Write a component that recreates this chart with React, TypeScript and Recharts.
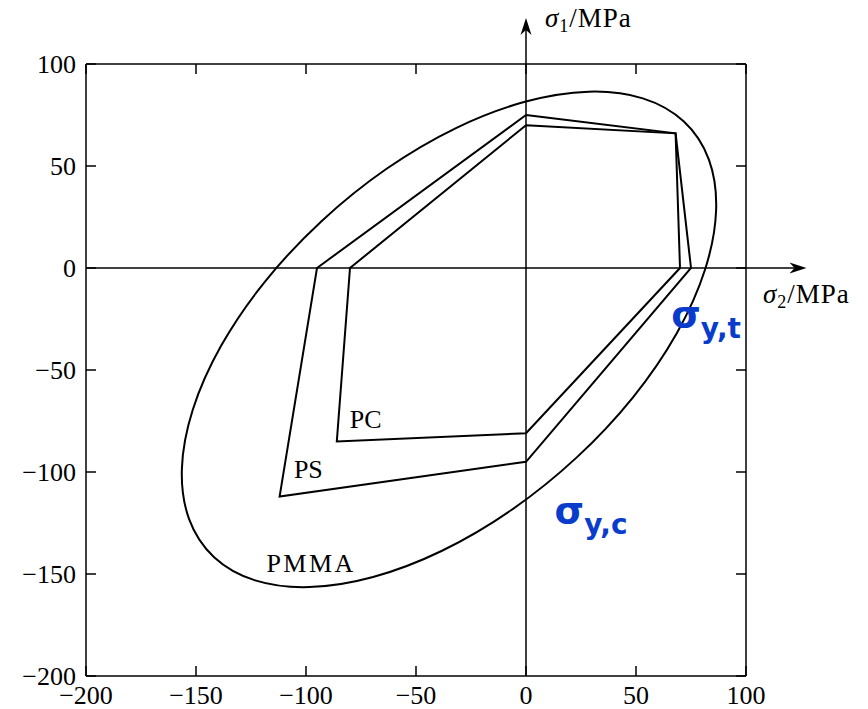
import React from 'react';
import { ScatterChart, Scatter, XAxis, YAxis, ReferenceLine, ReferenceDot } from 'recharts';

// yield loci, sigma2 (x) vs sigma1 (y), MPa
const PC = [
  { s2: 0, s1: 70 }, { s2: 68, s1: 66 }, { s2: 70, s1: 0 }, { s2: 0, s1: -81 },
  { s2: -86, s1: -85 }, { s2: -80, s1: 0 }, { s2: 0, s1: 70 },
];
const PS = [
  { s2: 0, s1: 75 }, { s2: 68, s1: 66 }, { s2: 75, s1: 0 }, { s2: 0, s1: -95 },
  { s2: -112, s1: -112 }, { s2: -95, s1: 0 }, { s2: 0, s1: 75 },
];
// control points of the PMMA ellipse (closed B-spline)
const PMMA = [
  { s2: 73.0, s1: 73.0 }, { s2: 54.1, s1: 84.5 }, { s2: 29.2, s1: 87.8 },
  { s2: -0.1, s1: 82.8 }, { s2: -31.8, s1: 69.8 }, { s2: -63.7, s1: 49.6 },
  { s2: -93.6, s1: 23.6 }, { s2: -119.6, s1: -6.3 }, { s2: -139.8, s1: -38.2 },
  { s2: -152.8, s1: -69.9 }, { s2: -157.8, s1: -99.2 }, { s2: -154.5, s1: -124.1 },
  { s2: -143.0, s1: -143.0 }, { s2: -124.1, s1: -154.5 }, { s2: -99.2, s1: -157.8 },
  { s2: -69.9, s1: -152.8 }, { s2: -38.2, s1: -139.8 }, { s2: -6.3, s1: -119.6 },
  { s2: 23.6, s1: -93.6 }, { s2: 49.6, s1: -63.7 }, { s2: 69.8, s1: -31.8 },
  { s2: 82.8, s1: -0.1 }, { s2: 87.8, s1: 29.2 }, { s2: 84.5, s1: 54.1 },
];
const TICKS = [-200, -150, -100, -50, 0, 50, 100];

const SERIF = '"Liberation Serif", "Times New Roman", serif';
const SANS = '"DejaVu Sans", Verdana, sans-serif';
const BLUE = '#0a3ccc';

const fmt = (v: number) => String(v).replace('-', '\u2212');
const blank = () => '';
const noDot = () => <g />;

// axis line through the origin with an arrow head at its far end
const AxisArrow = (p: any) => {
  const { x1, y1, x2, y2 } = p;
  const len = Math.hypot(x2 - x1, y2 - y1);
  const ux = (x2 - x1) / len, uy = (y2 - y1) / len;
  const px = -uy, py = ux;
  const L = 17, W = 5.5, N = 12;
  const pts = [
    [x2, y2],
    [x2 - ux * L + px * W, y2 - uy * L + py * W],
    [x2 - ux * N, y2 - uy * N],
    [x2 - ux * L - px * W, y2 - uy * L - py * W],
  ].map(q => q.join(',')).join(' ');
  return (
    <g>
      <line x1={x1} y1={y1} x2={x2 - ux * N} y2={y2 - uy * N} stroke="#000" strokeWidth={1.5} />
      <polygon points={pts} fill="#000" />
    </g>
  );
};

const at = (draw: (x: number, y: number) => React.ReactNode) => (p: any) => {
  const vb = p.viewBox || {};
  return draw((vb.x || 0) + (vb.width || 0) / 2, (vb.y || 0) + (vb.height || 0) / 2);
};

const plain = (t: string, spacing = 0) => at((x, y) => (
  <text x={x} y={y} fontFamily={SERIF} fontSize={26} letterSpacing={spacing} fill="#000">{t}</text>
));

const axisTitle = (sub: string) => at((x, y) => (
  <text x={x} y={y} fontFamily={SERIF} fontSize={27} letterSpacing={1} fill="#000">
    <tspan fontStyle="italic">σ</tspan>
    <tspan fontSize={18} dy={5}>{sub}</tspan>
    <tspan dy={-5}>/MPa</tspan>
  </text>
));

const yieldNote = (sub: string) => at((x, y) => (
  <text x={x} y={y} fontFamily={SANS} fontWeight="bold" fill={BLUE} fontSize={38}>
    σ<tspan fontSize={28} dy={11}>{sub}</tspan>
  </text>
));

const tickFont = { fontFamily: SERIF, fontSize: 26, fill: '#000' };
const frame = { stroke: '#000', strokeWidth: 1.5 };

export default function App() {
  return (
    <div style={{ position: 'absolute', left: 0, top: 0, background: '#fff' }}>
      <ScatterChart width={868} height={709} margin={{ top: 54, right: 112, bottom: 3, left: 16 }}>
        <XAxis xAxisId={0} type="number" dataKey="s2" domain={[-200, 100]} ticks={TICKS} interval={0}
          tickFormatter={fmt} tick={tickFont} tickSize={-10} tickMargin={20} height={30}
          axisLine={frame} tickLine={frame} />
        <XAxis xAxisId="top" orientation="top" type="number" dataKey="s2" domain={[-200, 100]} ticks={TICKS}
          interval={0} tickFormatter={blank} tickSize={-10} height={10} axisLine={frame} tickLine={frame} />
        <YAxis yAxisId={0} type="number" dataKey="s1" domain={[-200, 100]} ticks={TICKS} interval={0}
          tickFormatter={fmt} tick={tickFont} tickSize={-10} tickMargin={20} width={70}
          axisLine={frame} tickLine={frame} />
        <YAxis yAxisId="right" orientation="right" type="number" dataKey="s1" domain={[-200, 100]} ticks={TICKS}
          interval={0} tickFormatter={blank} tickSize={-10} width={10} axisLine={frame} tickLine={frame} />

        <ReferenceLine ifOverflow="visible" segment={[{ x: 0, y: -200 }, { x: 0, y: 122.5 }]} shape={AxisArrow} />
        <ReferenceLine ifOverflow="visible" segment={[{ x: -200, y: 0 }, { x: 127.5, y: 0 }]} shape={AxisArrow} />

        <Scatter name="PMMA" data={PMMA} xAxisId={0} yAxisId={0} fill="#000" shape={noDot}
          line={{ stroke: '#000', strokeWidth: 2 }} lineJointType="basisClosed" isAnimationActive={false} />
        <Scatter name="PS" data={PS} xAxisId="top" yAxisId="right" fill="#000" shape={noDot}
          line={{ stroke: '#000', strokeWidth: 2, strokeLinejoin: 'miter' }} isAnimationActive={false} />
        <Scatter name="PC" data={PC} xAxisId={0} yAxisId={0} fill="#000" shape={noDot}
          line={{ stroke: '#000', strokeWidth: 2, strokeLinejoin: 'miter' }} isAnimationActive={false} />

        <ReferenceDot x={-80.1} y={-78.6} r={0} fill="none" stroke="none" ifOverflow="visible" label={plain('PC')} />
        <ReferenceDot x={-105.5} y={-102.8} r={0} fill="none" stroke="none" ifOverflow="visible" label={plain('PS')} />
        <ReferenceDot x={-118} y={-149} r={0} fill="none" stroke="none" ifOverflow="visible" label={plain('PMMA', 2.5)} />
        <ReferenceDot x={8.6} y={118} r={0} fill="none" stroke="none" ifOverflow="visible" label={axisTitle('1')} />
        <ReferenceDot x={107.7} y={-17.2} r={0} fill="none" stroke="none" ifOverflow="visible" label={axisTitle('2')} />
        <ReferenceDot x={66} y={-29} r={0} fill="none" stroke="none" ifOverflow="visible" label={yieldNote('y,t')} />
        <ReferenceDot x={13} y={-125} r={0} fill="none" stroke="none" ifOverflow="visible" label={yieldNote('y,c')} />
      </ScatterChart>
    </div>
  );
}
